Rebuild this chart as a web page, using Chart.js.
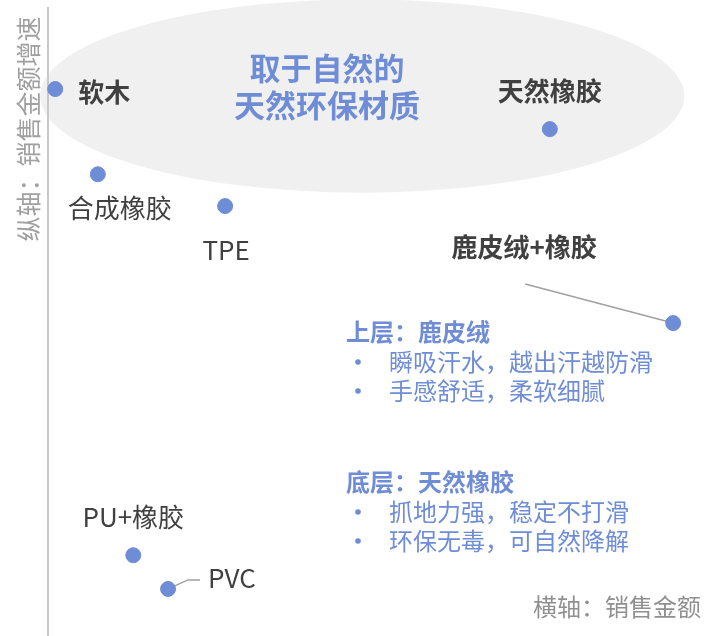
<!DOCTYPE html>
<html><head><meta charset="utf-8">
<script src="https://cdn.jsdelivr.net/npm/chart.js@4/dist/chart.umd.min.js"></script>
<style>html,body{margin:0;padding:0;background:#fff;}canvas{display:block;}</style>
</head><body>
<canvas id="c" width="704" height="636"></canvas>
<script>
// Data (x: 销售金额 relative, y: 销售金额增速 relative)
const materials = ['软木','合成橡胶','TPE','天然橡胶','鹿皮绒+橡胶','PU+橡胶','PVC'];
const salesAmount = [1.1, 7.6, 27.0, 76.5, 95.3, 13.0, 18.3];
const salesGrowth = [86.0, 72.6, 67.6, 79.7, 49.2, 12.7, 7.4];
const boldLabels = [true,false,false,true,true,false,false];

const FONT = '"Noto Sans CJK SC","Noto Sans",sans-serif';
const BLUE = '#6F8DD6';
const DARK = '#404040';

// label placement relative to each point (pixels)
const labelPlace = [
  {dx:23, dy:3, align:'left'},
  {dx:22, dy:34, align:'center'},
  {dx:1, dy:44, align:'center'},
  {dx:0, dy:-38, align:'center'},
  {dx:-149, dy:-76, align:'center', leader:[[-148,-39]]},
  {dx:0, dy:-38, align:'center'},
  {dx:40, dy:-11, align:'left', leader:[[20,-9],[32,-9]]}
];

// highlighted region (data units): centre x, centre y, radius x, radius y
const regionEllipse = {cx:47.9, cy:84.9, rx:49.1, ry:15.2};

const bgPlugin = {
  id:'bg',
  beforeDatasetsDraw(chart){
    const {ctx, scales:{x,y}} = chart;
    const e = regionEllipse;
    const cx = x.getPixelForValue(e.cx), cy = y.getPixelForValue(e.cy);
    const rx = x.getPixelForValue(e.cx+e.rx)-cx, ry = cy - y.getPixelForValue(e.cy+e.ry);
    ctx.save();
    ctx.fillStyle = '#f0f0f0';
    ctx.beginPath();
    ctx.ellipse(cx, cy, rx, ry, 0, 0, Math.PI*2);
    ctx.fill();
    // y axis line
    const ax = x.getPixelForValue(0);
    ctx.strokeStyle = '#c8c8c8';
    ctx.lineWidth = 2;
    ctx.beginPath();
    ctx.moveTo(ax, 7); ctx.lineTo(ax, chart.height);
    ctx.stroke();
    // leader lines
    const meta = chart.getDatasetMeta(0);
    ctx.strokeStyle = '#a0a0a0';
    ctx.lineWidth = 1.5;
    meta.data.forEach((pt,i)=>{
      const lp = labelPlace[i];
      if(!lp.leader) return;
      ctx.beginPath();
      ctx.moveTo(pt.x, pt.y);
      lp.leader.forEach(([dx,dy])=>ctx.lineTo(pt.x+dx, pt.y+dy));
      ctx.stroke();
    });
    // title
    ctx.fillStyle = BLUE;
    ctx.font = 'bold 31px '+FONT;
    ctx.textAlign = 'center'; ctx.textBaseline = 'middle';
    ctx.fillText('取于自然的', 327, 68);
    ctx.fillText('天然环保材质', 327, 105);
    ctx.restore();
  },
  afterDatasetsDraw(chart){
    const {ctx} = chart;
    const meta = chart.getDatasetMeta(0);
    ctx.save();
    ctx.textBaseline = 'middle';
    meta.data.forEach((pt,i)=>{
      const lp = labelPlace[i];
      ctx.font = (boldLabels[i]?'bold ':'')+'26px '+FONT;
      ctx.fillStyle = DARK;
      ctx.textAlign = lp.align;
      ctx.fillText(materials[i], pt.x+lp.dx, pt.y+lp.dy);
    });
    // axis titles
    ctx.fillStyle = '#a0a0a0';
    ctx.font = '25px '+FONT;
    ctx.save();
    ctx.translate(28, 129);
    ctx.rotate(-Math.PI/2);
    ctx.textAlign = 'center';
    ctx.fillText('纵轴：销售金额增速', 0, 0);
    ctx.restore();
    ctx.fillStyle = '#909090';
    ctx.font = '24px '+FONT;
    ctx.textAlign = 'right';
    ctx.fillText('横轴：销售金额', 701, 607);
    // annotation
    ctx.fillStyle = BLUE;
    ctx.textAlign = 'left';
    ctx.font = 'bold 24px '+FONT;
    ctx.fillText('上层：鹿皮绒', 346, 332);
    ctx.fillText('底层：天然橡胶', 346, 482);
    const bullets = [['瞬吸汗水，越出汗越防滑',362],['手感舒适，柔软细腻',391],['抓地力强，稳定不打滑',512],['环保无毒，可自然降解',541]];
    bullets.forEach(([t,yy])=>{
      ctx.beginPath();
      ctx.arc(358, yy, 2.8, 0, Math.PI*2);
      ctx.fill();
      ctx.font = '24px '+FONT;
      ctx.fillText(t, 389, yy);
    });
    ctx.restore();
  }
};

new Chart(document.getElementById('c'), {
  type:'scatter',
  data:{
    datasets:[{
      data: salesAmount.map((v,i)=>({x:v, y:salesGrowth[i]})),
      backgroundColor: BLUE,
      borderColor: BLUE,
      pointRadius: 7.5,
      pointHoverRadius: 7.5,
      clip:false
    }]
  },
  options:{
    responsive:false,
    devicePixelRatio:1,
    animation:false,
    layout:{autoPadding:false, padding:{left:48,right:0,top:0,bottom:0}},
    plugins:{legend:{display:false}, tooltip:{enabled:false}},
    scales:{
      x:{type:'linear', min:0, max:100, display:false},
      y:{type:'linear', min:0, max:100, display:false}
    }
  },
  plugins:[bgPlugin]
});
</script>
</body></html>
